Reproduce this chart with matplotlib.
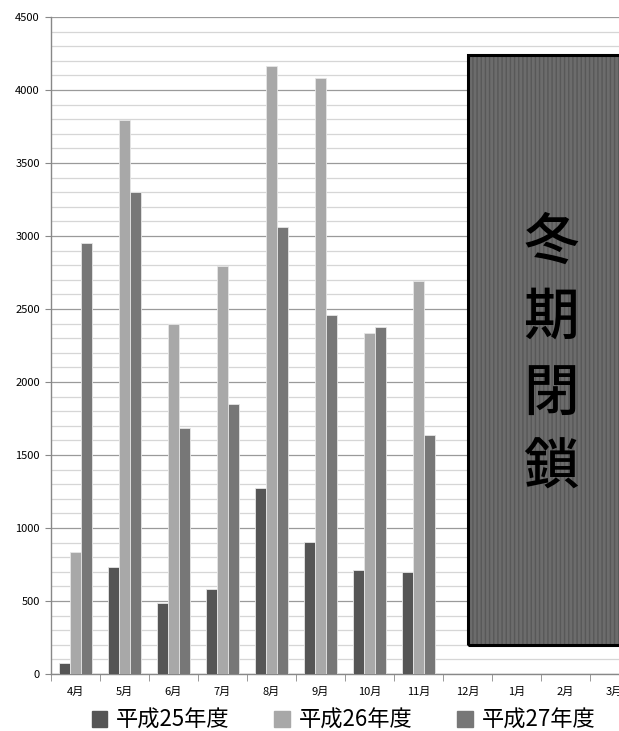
import matplotlib
matplotlib.use("Agg")
import matplotlib.pyplot as plt
import matplotlib.patches as mpatches
from matplotlib.ticker import MultipleLocator
import numpy as np

plt.rcParams["font.family"] = ["Noto Sans CJK JP", "DejaVu Sans"]

months = ["4月", "5月", "6月", "7月", "8月", "9月", "10月", "11月", "12月", "1月", "2月", "3月"]
series_names = ["平成25年度", "平成26年度", "平成27年度"]
h25 = [75, 733, 486, 582, 1274, 904, 712, 699]
h26 = [836, 3795, 2397, 2795, 4164, 4082, 2336, 2692]
h27 = [2952, 3301, 1685, 1849, 3062, 2459, 2377, 1637]
colors = ["#555555", "#a8a8a8", "#777777"]

# winter closure box (in data units)
closed_from = 8        # centre of 12月
closed_to = 12.5
closed_low = 200
closed_high = 4240
closed_label = "冬\n期\n閉\n鎖"

fig = plt.figure(figsize=(6.19, 7.31), dpi=100)
ax = fig.add_axes([51 / 619, 1 - 674 / 731, 588 / 619, (674 - 17) / 731])

x = np.arange(len(h25))
w = 0.22
for i, vals in enumerate([h25, h26, h27]):
    ax.bar(x + (i - 1) * w, vals, width=w, color=colors[i],
           edgecolor="#e6e6e6", linewidth=0.6, label=series_names[i], zorder=3)

ax.set_xlim(-0.5, len(months) - 0.5)
ax.set_ylim(0, 4500)
ax.yaxis.set_major_locator(MultipleLocator(500))
ax.yaxis.set_minor_locator(MultipleLocator(100))
ax.grid(axis="y", which="major", color="#9a9a9a", linewidth=0.9, zorder=0)
ax.grid(axis="y", which="minor", color="#d6d6d6", linewidth=0.9, zorder=0)

ax.set_xticks(np.arange(len(months)))
ax.set_xticklabels(months, fontsize=8)
ax.set_xticks(np.arange(len(months) + 1) - 0.5, minor=True)
ax.tick_params(axis="x", which="major", length=0, pad=9)
ax.tick_params(axis="x", which="minor", length=5, color="#888888", direction="out")
ax.tick_params(axis="y", which="major", length=4, color="#888888", labelsize=8, pad=4)
ax.tick_params(axis="y", which="minor", length=0)

for s in ["top", "right"]:
    ax.spines[s].set_visible(False)
for s in ["left", "bottom"]:
    ax.spines[s].set_color("#888888")
    ax.spines[s].set_linewidth(1.0)

box = mpatches.Rectangle((closed_from, closed_low), closed_to - closed_from,
                         closed_high - closed_low, facecolor="#6c6c6c",
                         edgecolor="#585858", hatch="||||", linewidth=0,
                         zorder=4, clip_on=False)
ax.add_patch(box)
border = mpatches.Rectangle((closed_from, closed_low), closed_to - closed_from,
                            closed_high - closed_low, facecolor="none",
                            edgecolor="black", linewidth=2.2, zorder=5, clip_on=False)
ax.add_patch(border)
ax.text(9.7, 2180, closed_label, ha="center", va="center", fontsize=40,
        fontweight="medium", linespacing=1.44, color="black", zorder=6)

handles = [mpatches.Patch(color=c) for c in colors]
fig.legend(handles, series_names, loc="center", bbox_to_anchor=(0.555, 1 - 720 / 731),
           ncol=3, frameon=False, fontsize=16, handlelength=0.7, handleheight=0.7,
           handletextpad=0.4, columnspacing=2.0, borderpad=0)

fig.savefig("out.png", dpi=100)
